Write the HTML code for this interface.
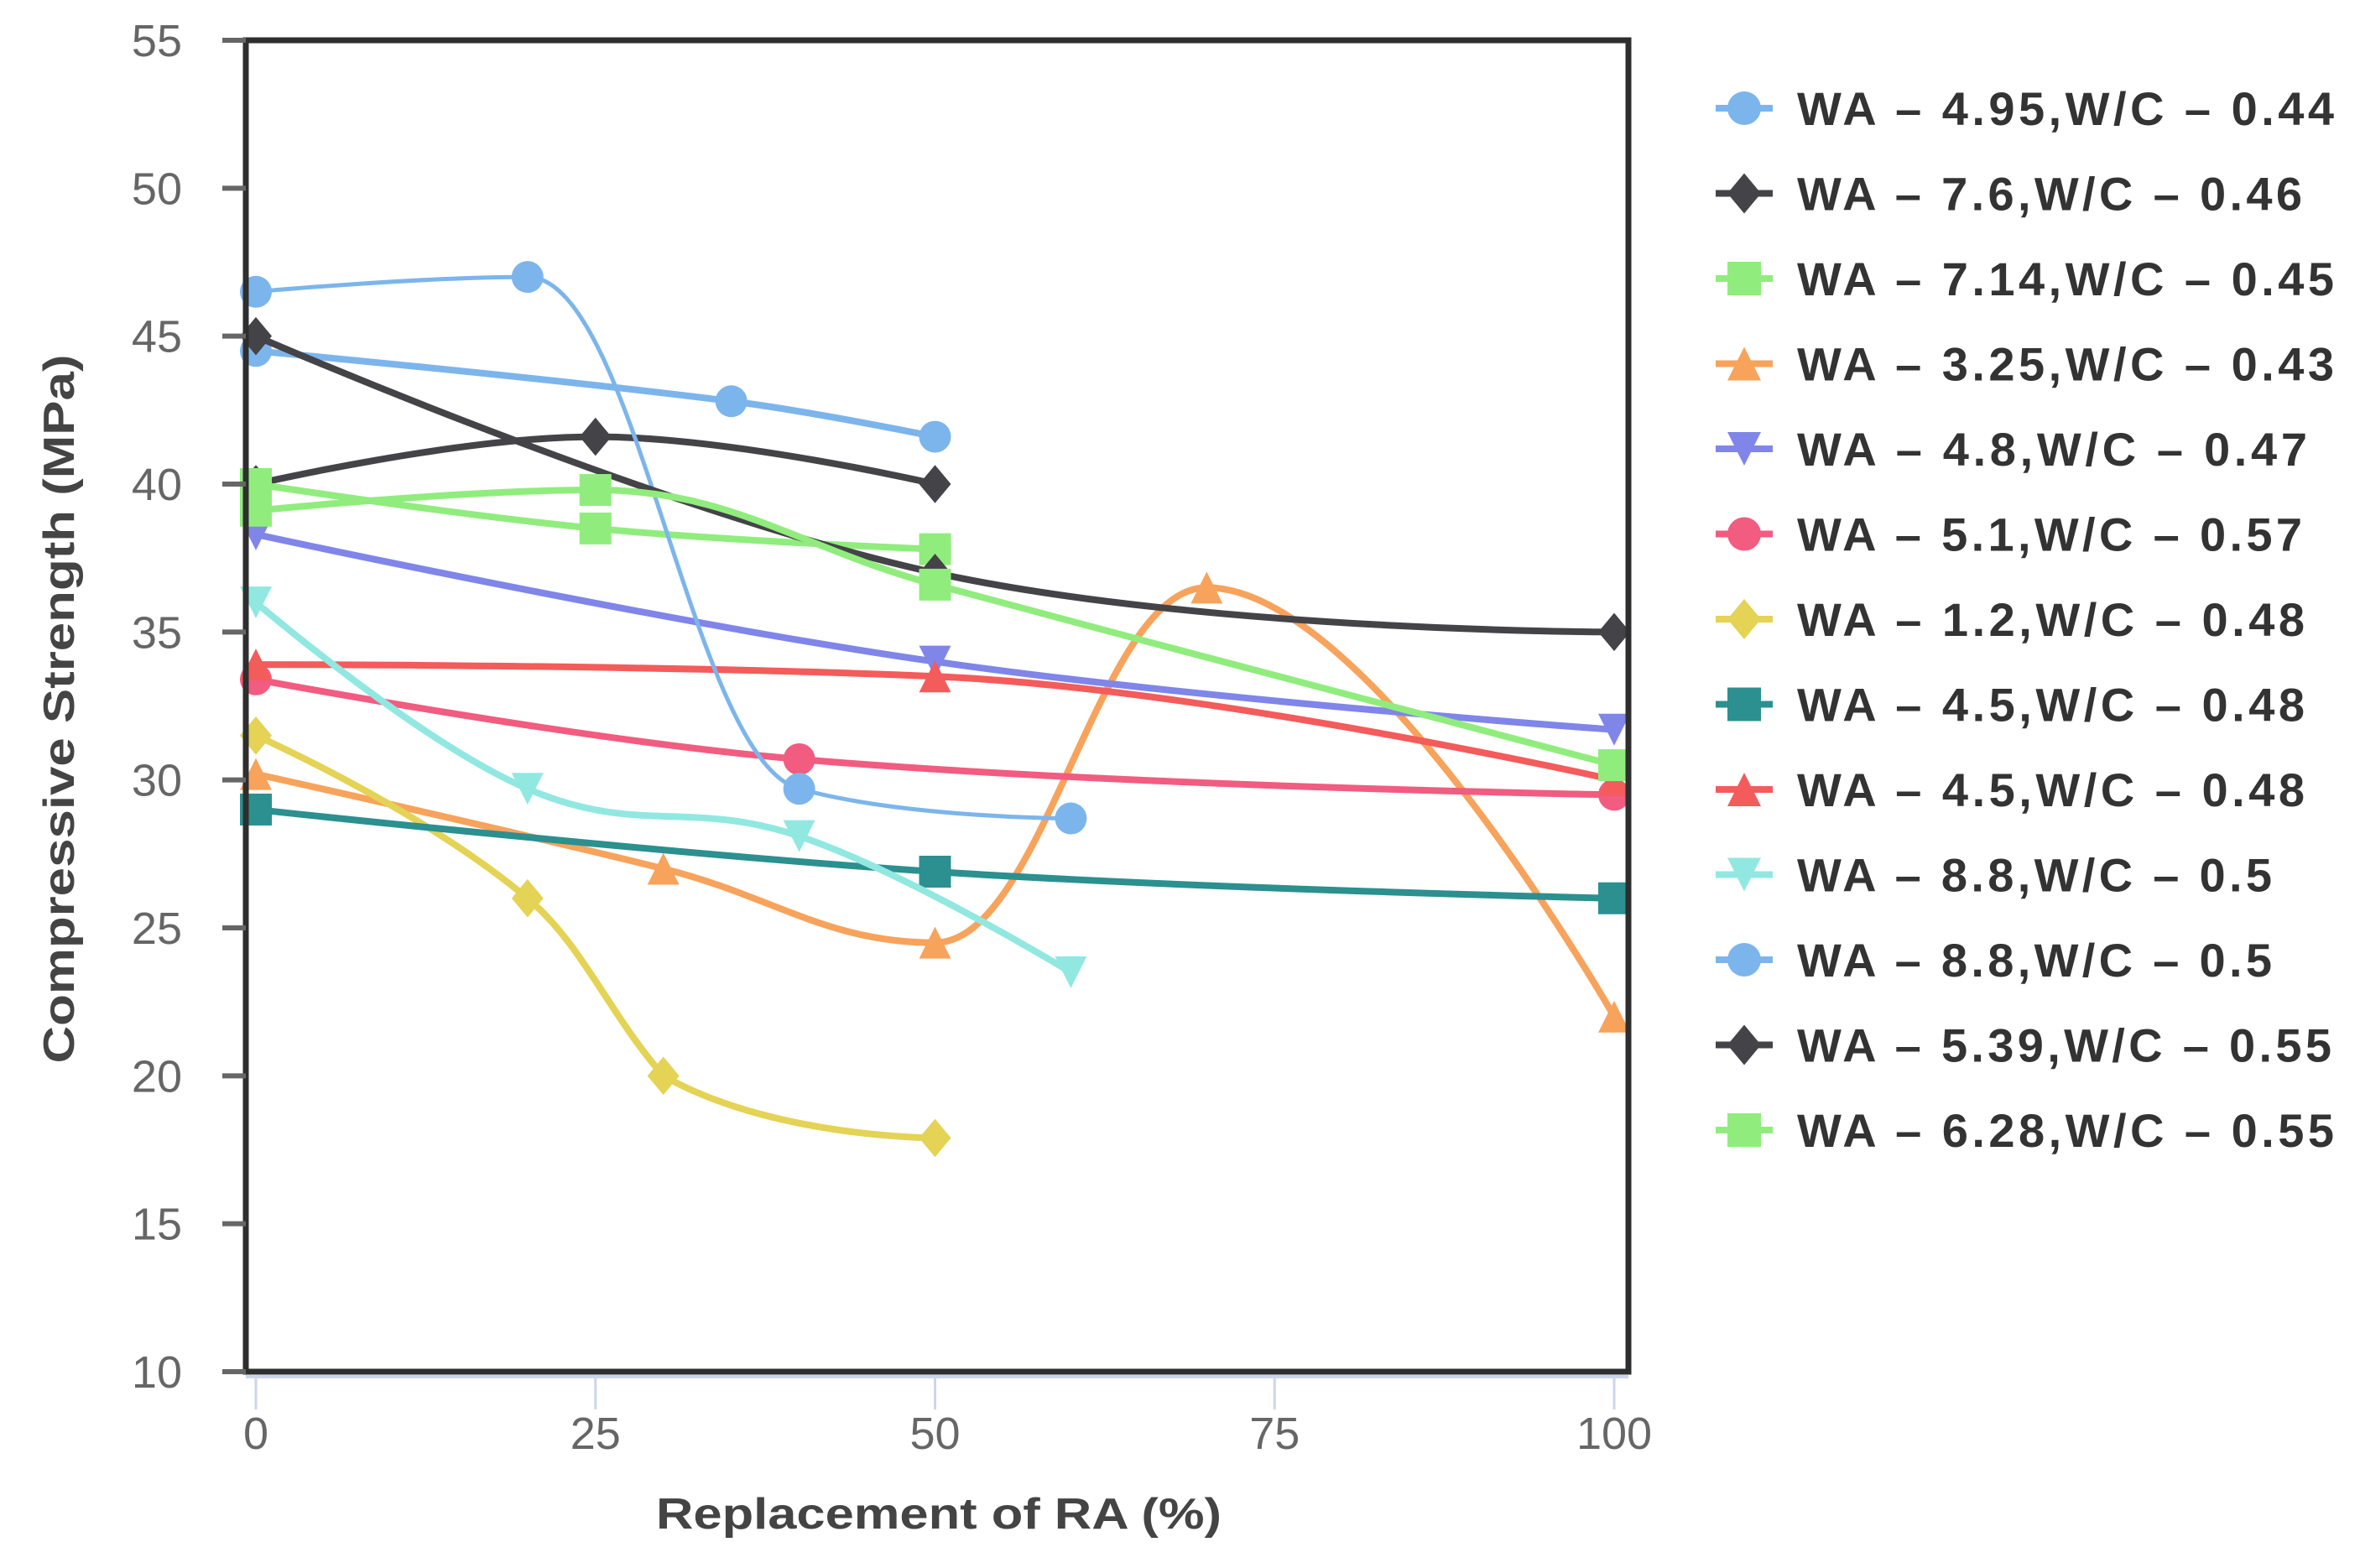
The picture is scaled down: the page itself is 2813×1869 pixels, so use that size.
<!DOCTYPE html>
<html><head><meta charset="utf-8"><style>
html,body{margin:0;padding:0;background:#fff;}
svg{display:block;}
</style></head><body>
<svg id="chart" width="2813" height="1869" viewBox="0 0 2813 1869" xmlns="http://www.w3.org/2000/svg">
<rect x="0" y="0" width="2813" height="1869" fill="#fff"/>
<g id="grid"></g>
<g id="series"></g>
<rect x="293" y="48" width="1648" height="1587" fill="none" stroke="#2e2e2e" stroke-width="7"/>
<g id="axes"></g>
<text transform="translate(88,845) rotate(-90)" text-anchor="middle" font-family="Liberation Sans, sans-serif" font-weight="bold" font-size="52" fill="#444" textLength="845" lengthAdjust="spacingAndGlyphs">Compressive Strength (MPa)</text>
<text x="1119" y="1822" text-anchor="middle" font-family="Liberation Sans, sans-serif" font-weight="bold" font-size="52" fill="#444" textLength="674" lengthAdjust="spacingAndGlyphs">Replacement of RA (%)</text>
<g id="legend"></g>
</svg>
<script>
const xTicks = [0, 25, 50, 75, 100];
const yTicks = [10, 15, 20, 25, 30, 35, 40, 45, 50, 55];
const seriesNames = ["WA – 4.95,W/C – 0.44","WA – 7.6,W/C – 0.46","WA – 7.14,W/C – 0.45","WA – 3.25,W/C – 0.43","WA – 4.8,W/C – 0.47","WA – 5.1,W/C – 0.57","WA – 1.2,W/C – 0.48","WA – 4.5,W/C – 0.48","WA – 4.5,W/C – 0.48","WA – 8.8,W/C – 0.5","WA – 8.8,W/C – 0.5","WA – 5.39,W/C – 0.55","WA – 6.28,W/C – 0.55"];
const seriesColors = ["#7cb5ec","#434348","#90ed7d","#f7a35c","#8085e9","#f15c80","#e4d354","#2b908f","#f45b5b","#91e8e1","#7cb5ec","#434348","#90ed7d"];
const seriesSymbols = ["circle","diamond","square","triangle","triangle-down","circle","diamond","square","triangle","triangle-down","circle","diamond","square"];
const s1x=[0,35,50], s1y=[44.5,42.8,41.6];
const s2x=[0,25,50], s2y=[40,41.6,40];
const s3x=[0,25,50], s3y=[40,38.5,37.8];
const s4x=[0,30,50,70,100], s4y=[30.2,27,24.5,36.5,22];
const s5x=[0,50,100], s5y=[38.3,34,31.7];
const s6x=[0,40,100], s6y=[33.4,30.7,29.5];
const s7x=[0,20,30,50], s7y=[31.5,26,20,17.9];
const s8x=[0,50,100], s8y=[29,26.9,26];
const s9x=[0,50,100], s9y=[33.9,33.5,30];
const s10x=[0,20,40,60], s10y=[36,29.7,28.1,23.5];
const s11x=[0,20,40,60], s11y=[46.5,47,29.7,28.7];
const s12x=[0,50,100], s12y=[45,37,35];
const s13x=[0,25,50,100], s13y=[39.1,39.8,36.6,30.5];
const allX=[s1x,s2x,s3x,s4x,s5x,s6x,s7x,s8x,s9x,s10x,s11x,s12x,s13x];
const allY=[s1y,s2y,s3y,s4y,s5y,s6y,s7y,s8y,s9y,s10y,s11y,s12y,s13y];

const NS="http://www.w3.org/2000/svg";
const X0=305, X1=1924, YB=1635, YT=48;
function xScale(v){return X0+(v-0)/(100-0)*(X1-X0);}
function yScale(v){return YB-(v-10)/(55-10)*(YB-YT);}
function mk(tag,attrs,parent){const e=document.createElementNS(NS,tag);for(const k in attrs)e.setAttribute(k,attrs[k]);parent.appendChild(e);return e;}

const axes=document.getElementById('axes');
yTicks.forEach(t=>{
  const y=yScale(t);
  const l=mk('line',{x1:265,x2:293,y1:y,y2:y,stroke:'#666','stroke-width':6},axes);
  
  
  const tx=mk('text',{x:217,y:y+19,'text-anchor':'end','font-family':'Liberation Sans, sans-serif','font-size':54,fill:'#666'},axes);
  
  
  tx.textContent=t;
});
mk('line',{x1:293,x2:1941,y1:1641,y2:1641,stroke:'#ccd6eb','stroke-width':4},axes);
xTicks.forEach(t=>{
  const x=xScale(t);
  const l=mk('line',{x1:x,x2:x,y1:1640,y2:1680,stroke:'#ccd6eb','stroke-width':3},axes);
  
  
  const tx=mk('text',{x:x,y:1727,'text-anchor':'middle','font-family':'Liberation Sans, sans-serif','font-size':54,fill:'#666'},axes);
  
  
  tx.textContent=t;
});

function splinePath(pts){
  const sm=1.5,den=2.5;
  const ctl=pts.map((p,i)=>{
    if(i===0||i===pts.length-1)return {lx:p[0],ly:p[1],rx:p[0],ry:p[1]};
    const a=pts[i-1],b=pts[i+1];
    let lx=(sm*p[0]+a[0])/den, ly=(sm*p[1]+a[1])/den, rx=(sm*p[0]+b[0])/den, ry=(sm*p[1]+b[1])/den;
    if(rx!==lx){const c=((ry-ly)*(rx-p[0]))/(rx-lx)+p[1]-ry; ly+=c; ry+=c;}
    if(ly>a[1]&&ly>p[1]){ly=Math.max(a[1],p[1]);ry=2*p[1]-ly;}
    else if(ly<a[1]&&ly<p[1]){ly=Math.min(a[1],p[1]);ry=2*p[1]-ly;}
    if(ry>b[1]&&ry>p[1]){ry=Math.max(b[1],p[1]);ly=2*p[1]-ry;}
    else if(ry<b[1]&&ry<p[1]){ry=Math.min(b[1],p[1]);ly=2*p[1]-ry;}
    return {lx,ly,rx,ry};
  });
  let d='M'+pts[0][0]+' '+pts[0][1];
  for(let i=1;i<pts.length;i++){
    d+=' C'+ctl[i-1].rx+' '+ctl[i-1].ry+' '+ctl[i].lx+' '+ctl[i].ly+' '+pts[i][0]+' '+pts[i][1];
  }
  return d;
}
function marker(sym,x,y,r,color,parent){
  let e;
  if(sym==='circle')e=mk('circle',{cx:x,cy:y,r:r,fill:color},parent);
  else if(sym==='square')e=mk('rect',{x:x-r,y:y-r,width:2*r,height:2*r,fill:color},parent);
  else if(sym==='diamond')e=mk('polygon',{points:`${x},${y-r*1.2} ${x+r},${y} ${x},${y+r*1.2} ${x-r},${y}`,fill:color},parent);
  else if(sym==='triangle')e=mk('polygon',{points:`${x},${y-r} ${x+r},${y+r} ${x-r},${y+r}`,fill:color},parent);
  else e=mk('polygon',{points:`${x-r},${y-r} ${x+r},${y-r} ${x},${y+r}`,fill:color},parent);
  return e;
}
const sg=document.getElementById('series');
allX.forEach((xs,i)=>{
  const g=mk('g',{},sg);
  
  
  const pts=xs.map((v,j)=>[xScale(v),yScale(allY[i][j])]);
  const p=mk('path',{d:splinePath(pts),fill:'none',stroke:seriesColors[i],'stroke-width':(i===10?5:8),'stroke-linejoin':'round','stroke-linecap':'round'},g);
  
  
  pts.forEach(pt=>{
    const m=marker(seriesSymbols[i],pt[0],pt[1],19,seriesColors[i],g);
    
    
  });
});

const legendWidths=[640,602,640,640,608,602,605,605,605,566,566,637,640];
const lg=document.getElementById('legend');
seriesNames.forEach((n,i)=>{
  const y=129+i*101.5;
  const g=mk('g',{},lg);
  
  
  mk('line',{x1:2045,x2:2113,y1:y,y2:y,stroke:seriesColors[i],'stroke-width':8},g);
  marker(seriesSymbols[i],2079,y,20,seriesColors[i],g);
  const t=mk('text',{x:2142,y:y+20,'font-family':'Liberation Sans, sans-serif','font-weight':'bold','font-size':56,fill:'#333',textLength:legendWidths[i],lengthAdjust:'spacing'},g);
  
  
  t.textContent=n;
});
</script>
</body></html>
